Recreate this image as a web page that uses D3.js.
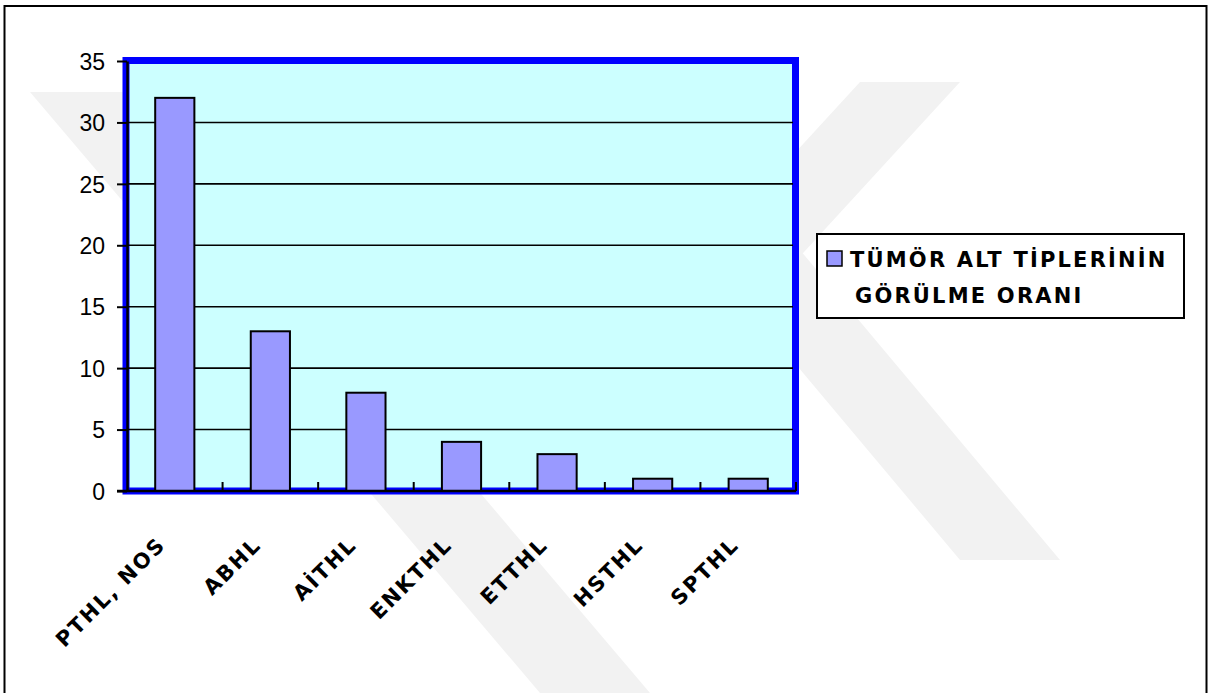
<!DOCTYPE html>
<html>
<head>
<meta charset="utf-8">
<script src="https://cdn.jsdelivr.net/npm/d3@7"></script>
<style>
  html, body { margin: 0; padding: 0; background: #fff; }
  svg { display: block; }
</style>
</head>
<body>
<svg id="chart" width="1215" height="693"></svg>
<script>
// Tumour subtype counts
const categories = ["PTHL, NOS", "ABHL", "AİTHL", "ENKTHL", "ETTHL", "HSTHL", "SPTHL"];
const counts = [32, 13, 8, 4, 3, 1, 1];
const yTicks = [0, 5, 10, 15, 20, 25, 30, 35];
const legendLines = ["TÜMÖR ALT TİPLERİNİN", "GÖRÜLME ORANI"];

const svg = d3.select("#chart");
const plot = { left: 127, right: 796, top: 61, bottom: 491 };
const labelFont = "'DejaVu Sans', Verdana, sans-serif";

// Faint background watermark bands
const wm = svg.append("g").attr("fill", "#f2f2f2");
[
  [[30, 92], [140, 92], [650, 693], [540, 693]],
  [[860, 82], [960, 82], [760, 300], [660, 300]],
  [[700, 250], [800, 250], [1060, 560], [960, 560]]
].forEach(p => wm.append("polygon").attr("points", p.map(q => q.join(",")).join(" ")));

// Outer frame (open at the bottom edge of the page)
svg.append("rect")
  .attr("x", 4.5).attr("y", 6)
  .attr("width", 1202).attr("height", 800)
  .attr("fill", "none").attr("stroke", "#000").attr("stroke-width", 2);

// Scales
const x = d3.scaleBand()
  .domain(categories)
  .range([plot.left, plot.right])
  .paddingInner(0.59)
  .paddingOuter(0.295);
const y = d3.scaleLinear().domain([0, 35]).range([plot.bottom, plot.top]);

// Plot area: light cyan with a heavy blue frame
svg.append("rect")
  .attr("x", plot.left - 1).attr("y", plot.top - 0.5)
  .attr("width", plot.right - plot.left + 0.5)
  .attr("height", plot.bottom - plot.top + 0.5)
  .attr("fill", "#CCFFFF")
  .attr("stroke", "#0000FF").attr("stroke-width", 7);

// Horizontal gridlines
svg.append("g")
  .selectAll("line")
  .data(yTicks.filter(v => v > 0 && v < 35))
  .join("line")
  .attr("x1", plot.left).attr("x2", plot.right - 3)
  .attr("y1", d => y(d)).attr("y2", d => y(d))
  .attr("stroke", "#000").attr("stroke-width", 1.6);

// Bars
svg.append("g")
  .selectAll("rect")
  .data(categories)
  .join("rect")
  .attr("x", d => x(d))
  .attr("y", (d, i) => y(counts[i]))
  .attr("width", x.bandwidth())
  .attr("height", (d, i) => y(0) - y(counts[i]))
  .attr("fill", "#9999FF")
  .attr("stroke", "#000").attr("stroke-width", 2);

// Y axis
const yAxis = svg.append("g")
  .attr("transform", `translate(${plot.left},0)`)
  .call(d3.axisLeft(y).tickValues(yTicks).tickSize(10).tickPadding(12).tickSizeOuter(0));
yAxis.select(".domain").attr("stroke", "#000").attr("stroke-width", 2.5);
yAxis.selectAll(".tick line").attr("stroke", "#000").attr("stroke-width", 2);
yAxis.selectAll(".tick text")
  .attr("font-family", "'Liberation Sans', Arial, sans-serif")
  .attr("font-size", 23)
  .attr("fill", "#000")
  .attr("dy", "0.36em");

// X axis: baseline plus small upward ticks at the category boundaries
const step = x.step();
const bounds = d3.range(categories.length + 1).map(i => plot.left + i * step);
const xAxis = svg.append("g");
xAxis.append("line")
  .attr("x1", plot.left - 10).attr("x2", plot.right)
  .attr("y1", y(0)).attr("y2", y(0))
  .attr("stroke", "#000").attr("stroke-width", 2.5);
xAxis.selectAll("line.tk")
  .data(bounds.slice(1))
  .join("line")
  .attr("class", "tk")
  .attr("x1", d => d).attr("x2", d => d)
  .attr("y1", y(0)).attr("y2", y(0) - 9)
  .attr("stroke", "#000").attr("stroke-width", 2);

// Rotated category labels
svg.append("g")
  .selectAll("text")
  .data(categories)
  .join("text")
  .attr("transform", d => `translate(${x(d) + x.bandwidth() / 2 - 8},${546}) rotate(-45)`)
  .attr("text-anchor", "end")
  .attr("font-family", labelFont)
  .attr("font-weight", "bold")
  .attr("font-size", 21)
  .attr("letter-spacing", 2)
  .attr("fill", "#000")
  .text(d => d);

// Legend
const lg = svg.append("g");
lg.append("rect")
  .attr("x", 817).attr("y", 234).attr("width", 367).attr("height", 84)
  .attr("fill", "#fff").attr("stroke", "#000").attr("stroke-width", 2);
lg.append("rect")
  .attr("x", 827).attr("y", 251).attr("width", 15).attr("height", 15)
  .attr("fill", "#9999FF").attr("stroke", "#000").attr("stroke-width", 1.5);
lg.selectAll("text")
  .data(legendLines)
  .join("text")
  .attr("x", (d, i) => i === 0 ? 850 : 855)
  .attr("y", (d, i) => i === 0 ? 267 : 303)
  .attr("font-family", labelFont)
  .attr("font-weight", "bold")
  .attr("font-size", 21)
  .attr("letter-spacing", 2.2)
  .attr("fill", "#000")
  .text(d => d);
</script>
</body>
</html>
